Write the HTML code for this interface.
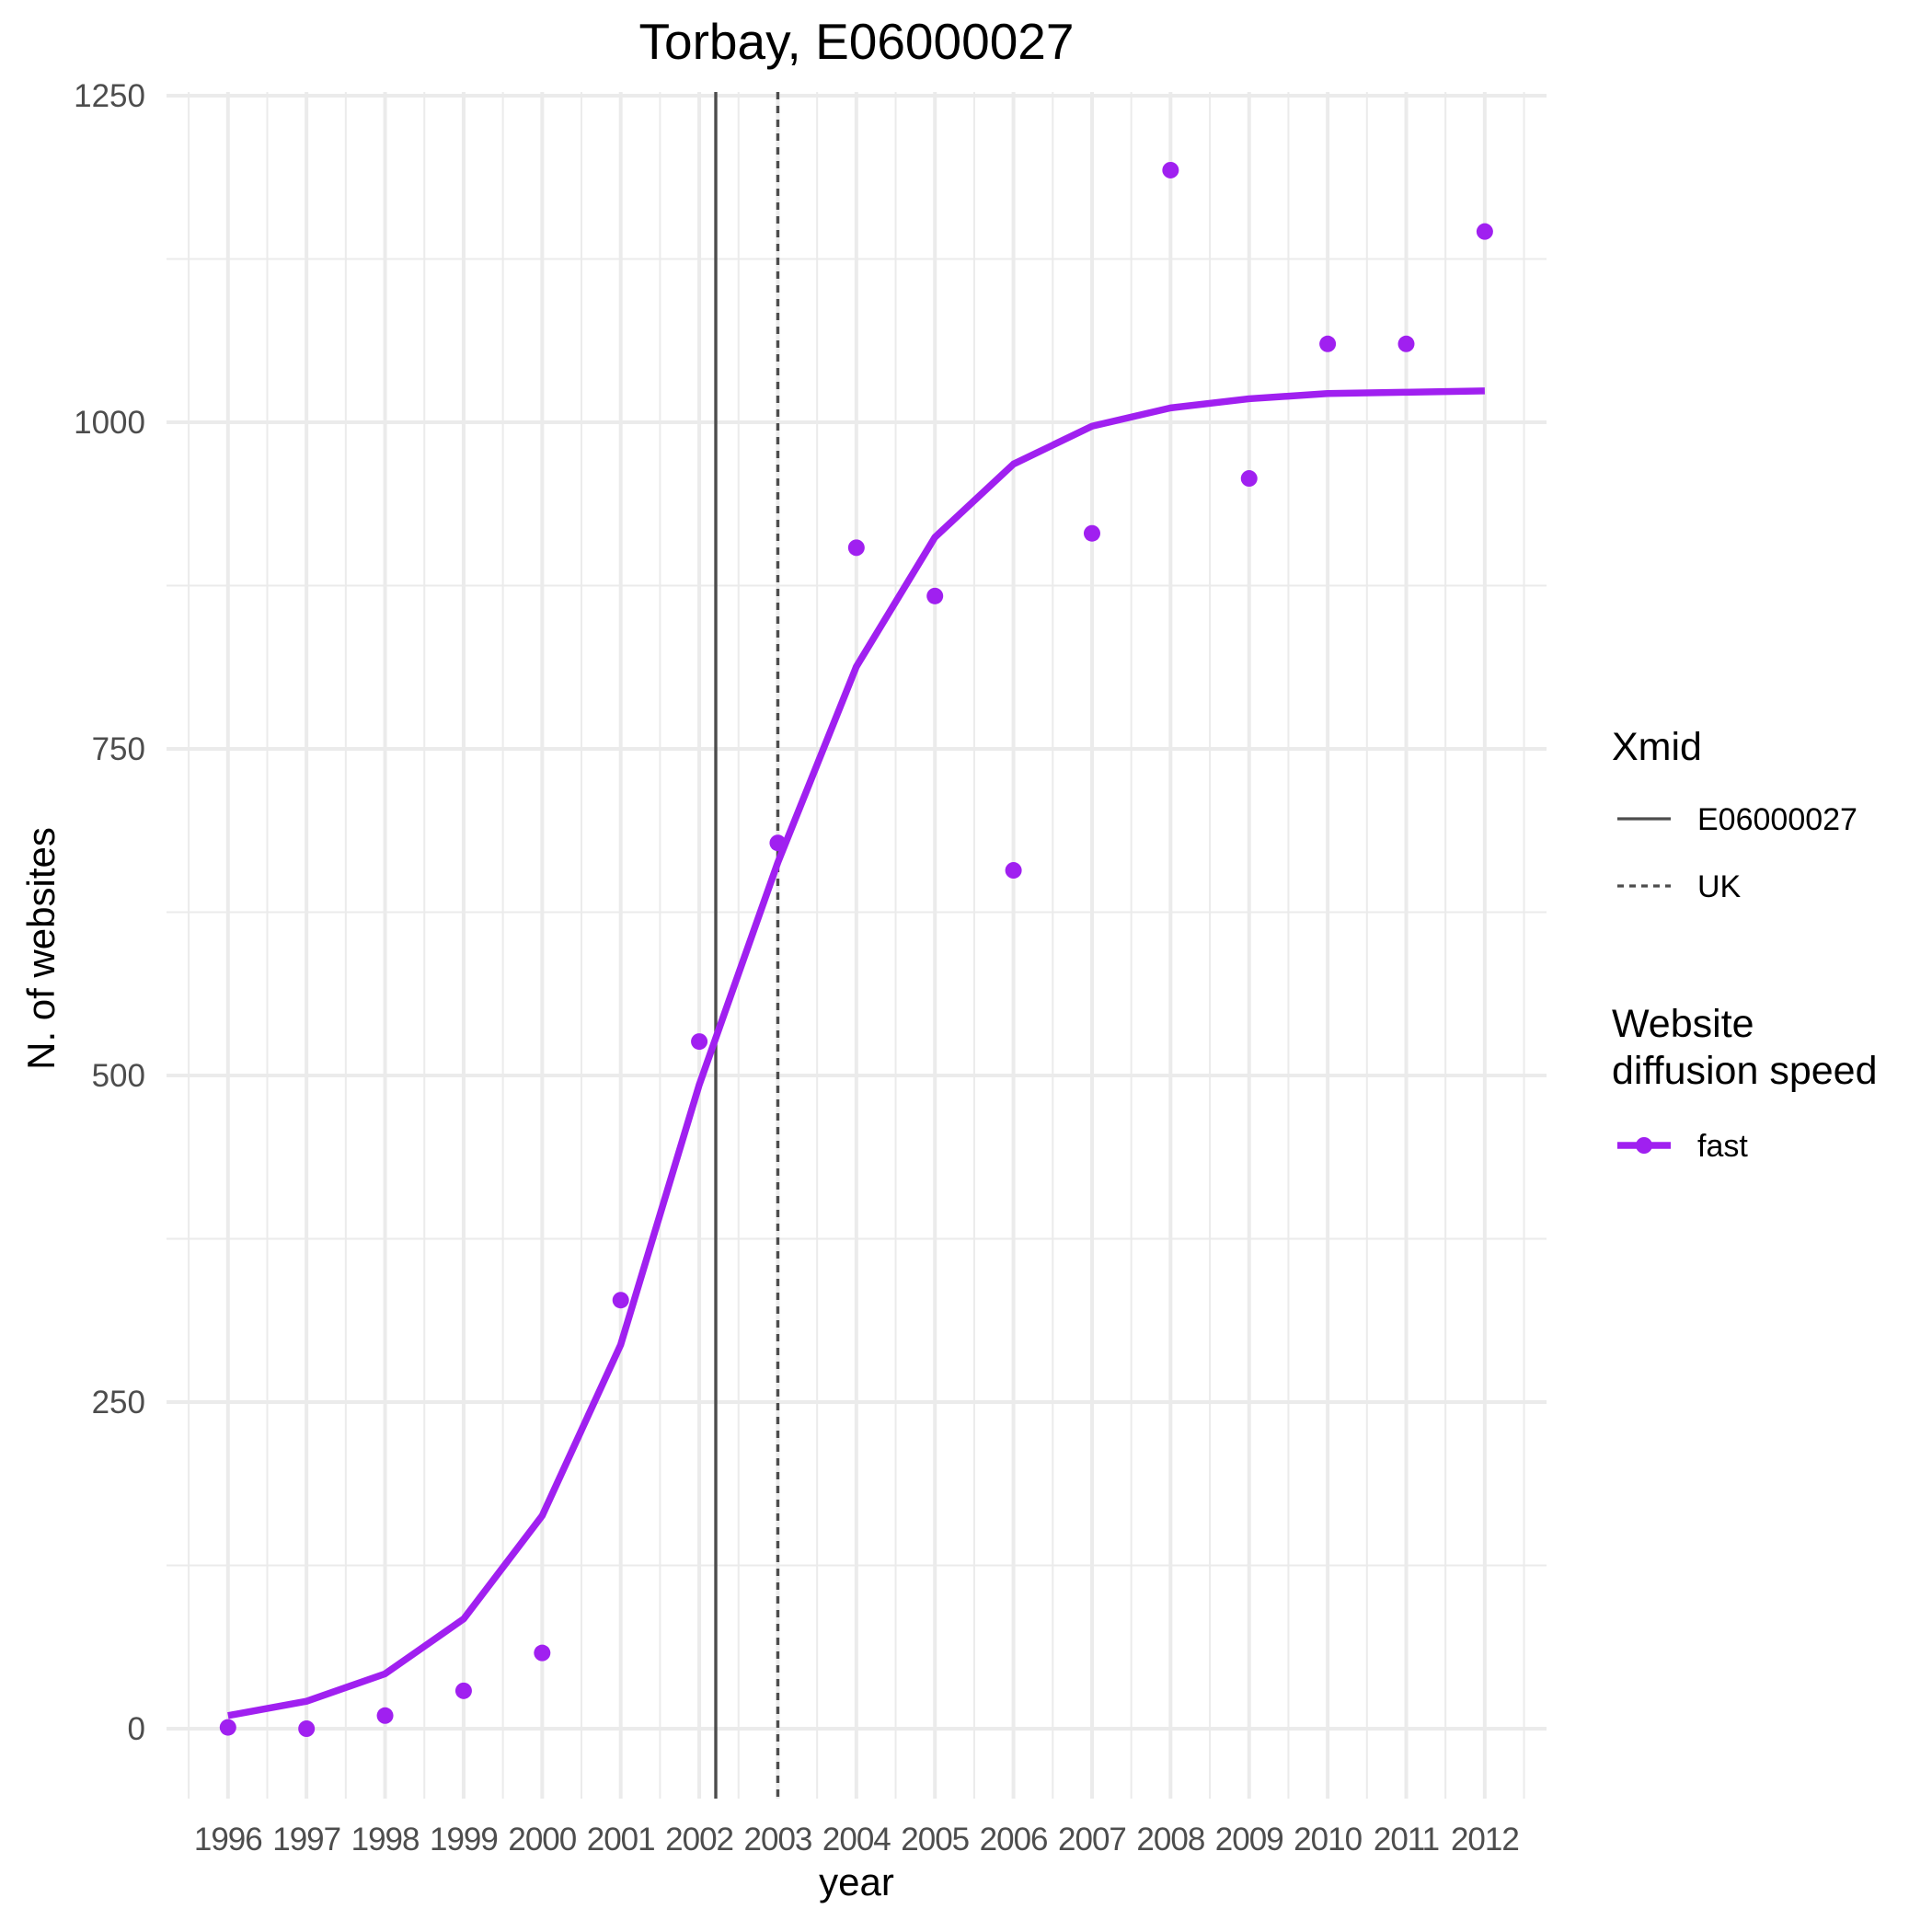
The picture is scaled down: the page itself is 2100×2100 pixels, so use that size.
<!DOCTYPE html>
<html><head><meta charset="utf-8"><style>
body{margin:0;background:#fff}
svg{display:block;font-family:"Liberation Sans",sans-serif}
</style></head><body>
<svg id="chart" width="2100" height="2100" viewBox="0 0 2100 2100">
<rect width="2100" height="2100" fill="#fff"/>
<g id="grid"></g>
<g id="vlines"></g>
<g id="series"></g>
<g id="axes"></g>
<text x="931" y="64" text-anchor="middle" font-size="55" fill="#000">Torbay, E06000027</text>
<text x="931" y="2060" text-anchor="middle" font-size="42" fill="#000">year</text>
<text transform="translate(59,1031) rotate(-90)" text-anchor="middle" font-size="42" fill="#000">N. of websites</text>
<g>
<text x="1752" y="826" font-size="43" fill="#000">Xmid</text>
<line x1="1758" y1="890" x2="1816" y2="890" stroke="#4d4d4d" stroke-width="3.2"/>
<text x="1845" y="902" font-size="34" fill="#000">E06000027</text>
<line x1="1758" y1="963" x2="1816" y2="963" stroke="#4d4d4d" stroke-width="3.2" stroke-dasharray="7,6"/>
<text x="1845" y="975" font-size="34" fill="#000">UK</text>
<text x="1752" y="1127" font-size="43" fill="#000">Website</text>
<text x="1752" y="1178" font-size="43" fill="#000">diffusion speed</text>
<line x1="1758" y1="1245" x2="1816" y2="1245" stroke="#a020f0" stroke-width="7.5"/>
<circle cx="1787" cy="1245" r="9" fill="#a020f0"/>
<text x="1845" y="1257" font-size="34" fill="#000">fast</text>
</g>
</svg>
<script>
const years=[1996,1997,1998,1999,2000,2001,2002,2003,2004,2005,2006,2007,2008,2009,2010,2011,2012];
const observed=[1,0,10,29,58,328,526,678,904,867,657,915,1193,957,1060,1060,1146];
const fitted=[10,21,42,84,163,294,493,663,813,912,968,997,1011,1018,1022,1023,1024];
const yTicks=[0,250,500,750,1000,1250];
const xmidLocal=2002.21;
const xmidUK=2003.0;

const NS="http://www.w3.org/2000/svg";
const X=v=>247.8+(v-1996)*85.38;
const Y=v=>1879-v*355/250;
const L=181,R=1681,T=100,B=1955;
function mk(p,tag,a){const e=document.createElementNS(NS,tag);for(const k in a)e.setAttribute(k,a[k]);p.appendChild(e);return e;}
const grid=document.getElementById('grid');
for(let v=-125;v<=1375;v+=125){const y=Y(v);if(y<T-1||y>B)continue;const major=v%250===0;
const l=mk(grid,'line',{x1:L,x2:R,y1:y,y2:y,stroke:'#ebebeb','stroke-width':major?4:2});

}
for(let v=1995.5;v<=2012.5;v+=0.5){const x=X(v);const major=Number.isInteger(v);
const l=mk(grid,'line',{x1:x,x2:x,y1:T,y2:B,stroke:'#ebebeb','stroke-width':major?4:2});

}
const vl=document.getElementById('vlines');
let a=mk(vl,'line',{x1:X(xmidLocal),x2:X(xmidLocal),y1:T,y2:B,stroke:'#4d4d4d','stroke-width':3.4});


a=mk(vl,'line',{x1:X(xmidUK),x2:X(xmidUK),y1:T,y2:B,stroke:'#4d4d4d','stroke-width':3.4,'stroke-dasharray':'8,7'});


const s=document.getElementById('series');
const pl=mk(s,'polyline',{points:years.map((y,i)=>X(y)+','+Y(fitted[i])).join(' '),fill:'none',stroke:'#a020f0','stroke-width':7.5,'stroke-linejoin':'round'});


years.forEach((y,i)=>{const c=mk(s,'circle',{cx:X(y),cy:Y(observed[i]),r:9,fill:'#a020f0'});

});
const ax=document.getElementById('axes');
yTicks.forEach(v=>{const t=mk(ax,'text',{x:158,y:Y(v)+12,'text-anchor':'end','font-size':35,fill:'#4d4d4d'});t.textContent=v;

});
years.forEach(v=>{const t=mk(ax,'text',{x:X(v),y:2011,'text-anchor':'middle','font-size':35,'letter-spacing':'-1',fill:'#4d4d4d'});t.textContent=v;

});
</script>
</body></html>
